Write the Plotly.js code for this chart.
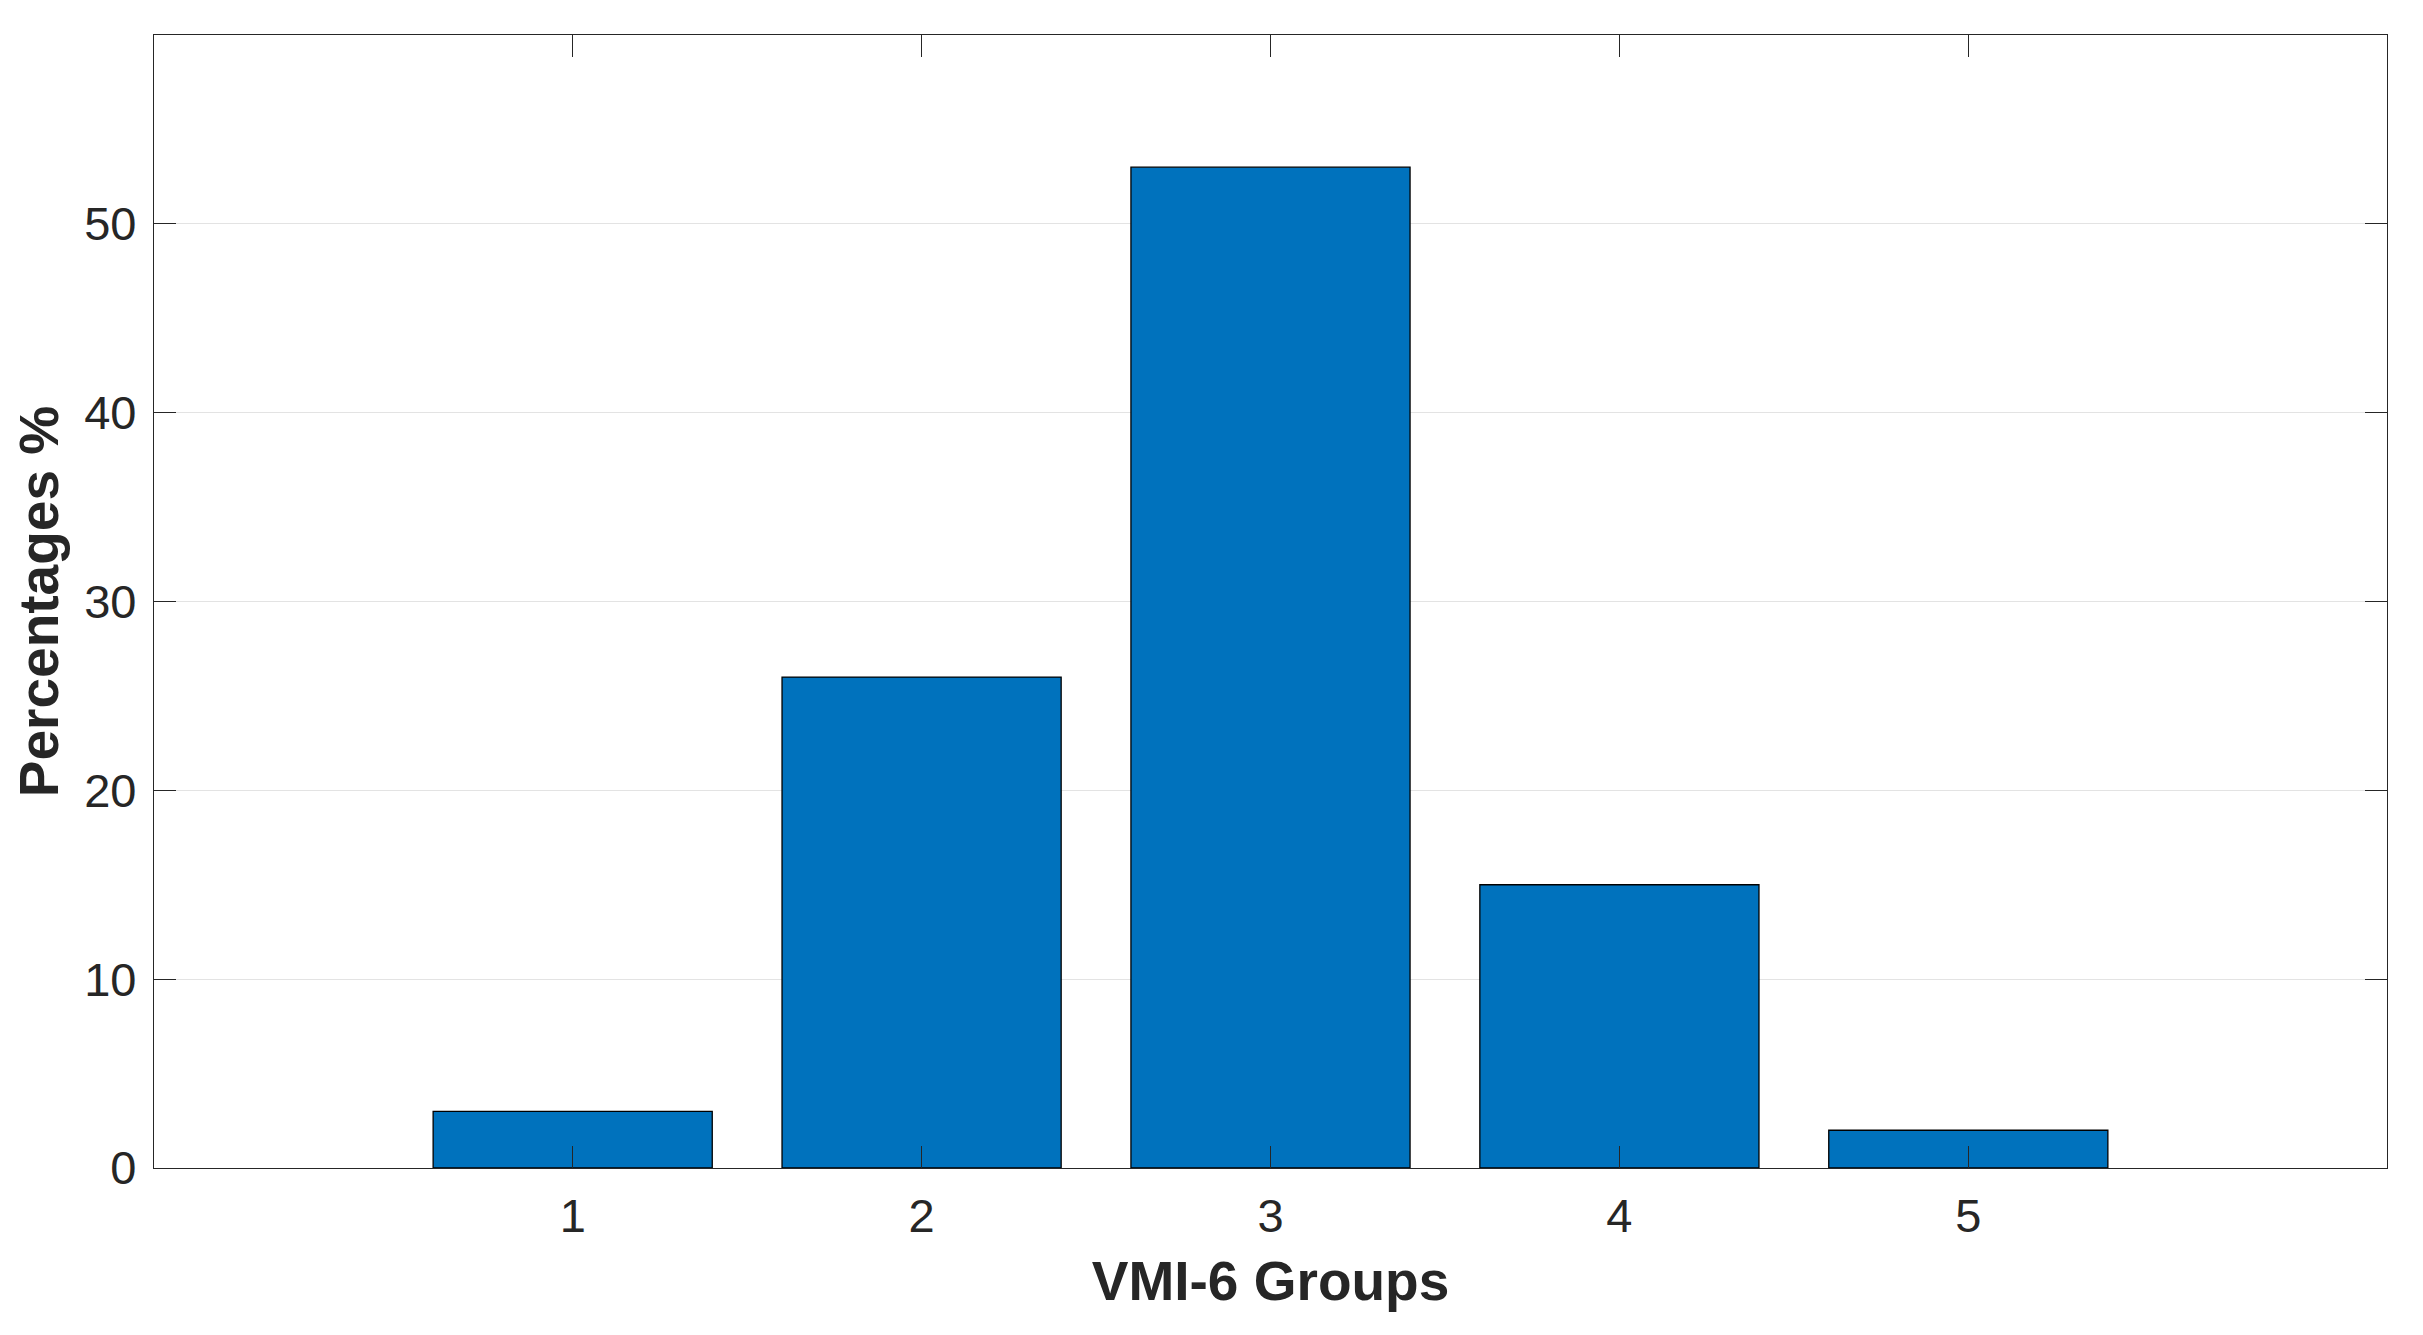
<!DOCTYPE html>
<html>
<head>
<meta charset="utf-8">
<script src="https://cdn.plot.ly/plotly-3.0.1.min.js"></script>
<style>html,body{margin:0;padding:0;background:#fff;}</style>
</head>
<body>
<div id="chart" style="width:2423px;height:1335px;"></div>
<script>
const groups = [1, 2, 3, 4, 5];
const percentages = [3, 26, 53, 15, 2];
const xTickVals = [1, 2, 3, 4, 5];
const xTickText = ['1', '2', '3', '4', '5'];
const yTickVals = [0, 10, 20, 30, 40, 50];
const yTickText = ['0', '10', '20', '30', '40', '50'];
const xTitle = 'VMI-6 Groups';
const yTitle = 'Percentages %';

const axisColor = '#262626';
const fontFamily = '"Liberation Sans", Arial, Helvetica, sans-serif';

const trace = {
  type: 'bar',
  x: groups,
  y: percentages,
  width: 0.8,
  marker: { color: '#0072BD', line: { color: '#000000', width: 1.3 } },
  hoverinfo: 'x+y'
};

const layout = {
  width: 2423,
  height: 1335,
  autosize: false,
  margin: { l: 154, r: 36, t: 35, b: 167, pad: 0 },
  paper_bgcolor: '#ffffff',
  plot_bgcolor: '#ffffff',
  showlegend: false,
  font: { family: fontFamily, color: axisColor, size: 47 },
  xaxis: {
    range: [-0.2, 6.2],
    tickmode: 'array',
    tickvals: xTickVals,
    ticktext: xTickText,
    ticks: 'inside',
    ticklen: 22,
    tickwidth: 1.3,
    tickcolor: axisColor,
    showline: true,
    linecolor: axisColor,
    linewidth: 1.3,
    mirror: 'ticks',
    showgrid: false,
    zeroline: false,
    tickfont: { family: fontFamily, size: 47, color: axisColor },
    ticklabelstandoff: 6,
    title: { text: xTitle, font: { family: fontFamily, size: 55, color: axisColor, weight: 'bold' }, standoff: 20 }
  },
  yaxis: {
    range: [0, 60],
    tickmode: 'array',
    tickvals: yTickVals,
    ticktext: yTickText,
    ticks: 'inside',
    ticklen: 22,
    tickwidth: 1.3,
    tickcolor: axisColor,
    showline: true,
    linecolor: axisColor,
    linewidth: 1.3,
    mirror: 'ticks',
    showgrid: true,
    gridcolor: '#e3e3e3',
    gridwidth: 1.3,
    zeroline: false,
    tickfont: { family: fontFamily, size: 47, color: axisColor },
    ticklabelstandoff: 7,
    title: { text: yTitle, font: { family: fontFamily, size: 55, color: axisColor, weight: 'bold' }, standoff: 7 }
  }
};

Plotly.newPlot('chart', [trace], layout, { displayModeBar: false, staticPlot: false });
</script>
</body>
</html>
